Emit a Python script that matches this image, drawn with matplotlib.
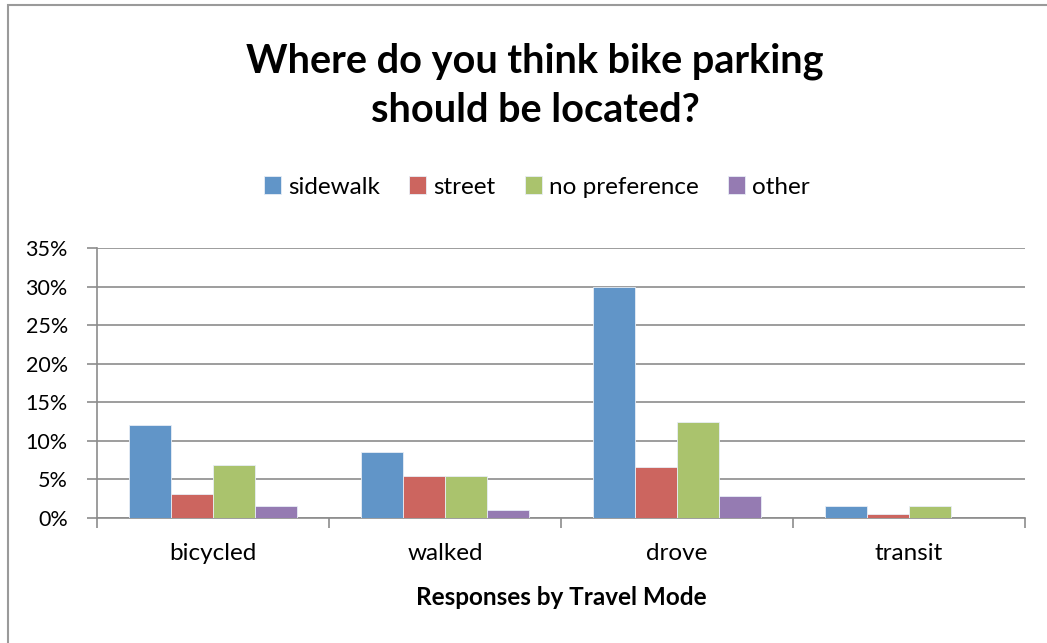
'''
Bike parking location survey - grouped bar chart
'''
import matplotlib
matplotlib.use("Agg")
import matplotlib.pyplot as plt
import numpy as np
from matplotlib.patches import Rectangle

modes = ["bicycled", "walked", "drove", "transit"]
series_names = ["sidewalk", "street", "no preference", "other"]
sidewalk = [12.0, 8.5, 30.0, 1.6]
street = [3.1, 5.5, 6.6, 0.5]
no_preference = [6.9, 5.5, 12.5, 1.6]
other = [1.6, 1.0, 2.9, 0.0]
yticks = [0, 5, 10, 15, 20, 25, 30, 35]

colors = ["#6195C8", "#CC655F", "#AAC36D", "#957BB2"]
grid_col = "#8C8C8C"

plt.rcParams["font.family"] = ["Lato", "DejaVu Sans"]

fig = plt.figure(figsize=(10.47, 6.43), dpi=100)
ax = fig.add_axes([97 / 1047, 1 - 518 / 643, (1025 - 97) / 1047, (518 - 248) / 643])

# outer chart border (cut off at right and bottom like the screenshot)
fig.patches.append(Rectangle((8 / 1047, -0.2), 1.2, 1.2 - 5 / 643,
                             transform=fig.transFigure, fill=False,
                             edgecolor="#9A9A9A", linewidth=1.5))

data = [sidewalk, street, no_preference, other]
x = np.arange(len(modes))
width = 1 / 5.5          # Excel gap width 150%
for i, vals in enumerate(data):
    offset = (i - 1.5) * width
    ax.bar(x + offset, vals, width, color=colors[i], edgecolor="#E8EEF6",
           linewidth=0.6, label=series_names[i], zorder=3)

ax.set_xlim(-0.5, len(modes) - 0.5)
ax.set_ylim(0, 35)
ax.set_yticks(yticks)
ax.set_yticklabels([f"{t}%" for t in yticks], fontsize=15.5)
ax.yaxis.grid(True, color=grid_col, linewidth=1.2, zorder=0)
ax.set_axisbelow(True)

# category labels in the middle, ticks on the boundaries
ax.set_xticks(np.arange(len(modes) + 1) - 0.5)
ax.set_xticklabels([])
ax.set_xticks(x, minor=True)
ax.set_xticklabels(modes, minor=True, fontsize=17.5)
ax.tick_params(axis="x", which="minor", length=0, pad=18)
ax.tick_params(axis="x", which="major", length=7, color=grid_col, width=1.2)
ax.tick_params(axis="y", length=7, color=grid_col, width=1.2, pad=14)
ax.set_xlabel("Responses by Travel Mode", fontsize=17.5, fontweight="bold", labelpad=16)

for side in ["top", "right"]:
    ax.spines[side].set_visible(False)
for side in ["left", "bottom"]:
    ax.spines[side].set_color(grid_col)
    ax.spines[side].set_linewidth(1.2)

fig.text(535 / 1047, 1 - 86 / 643, "Where do you think bike parking\nshould be located?",
         ha="center", va="center", fontsize=28.5, fontweight="bold", linespacing=1.4)

fig.legend(loc="center", bbox_to_anchor=(537 / 1047, 1 - 187 / 643), ncol=4,
           frameon=False, fontsize=17.5, handlelength=0.7, handleheight=0.7,
           handletextpad=0.3, columnspacing=1.2)

fig.savefig("out.png", dpi=100)
